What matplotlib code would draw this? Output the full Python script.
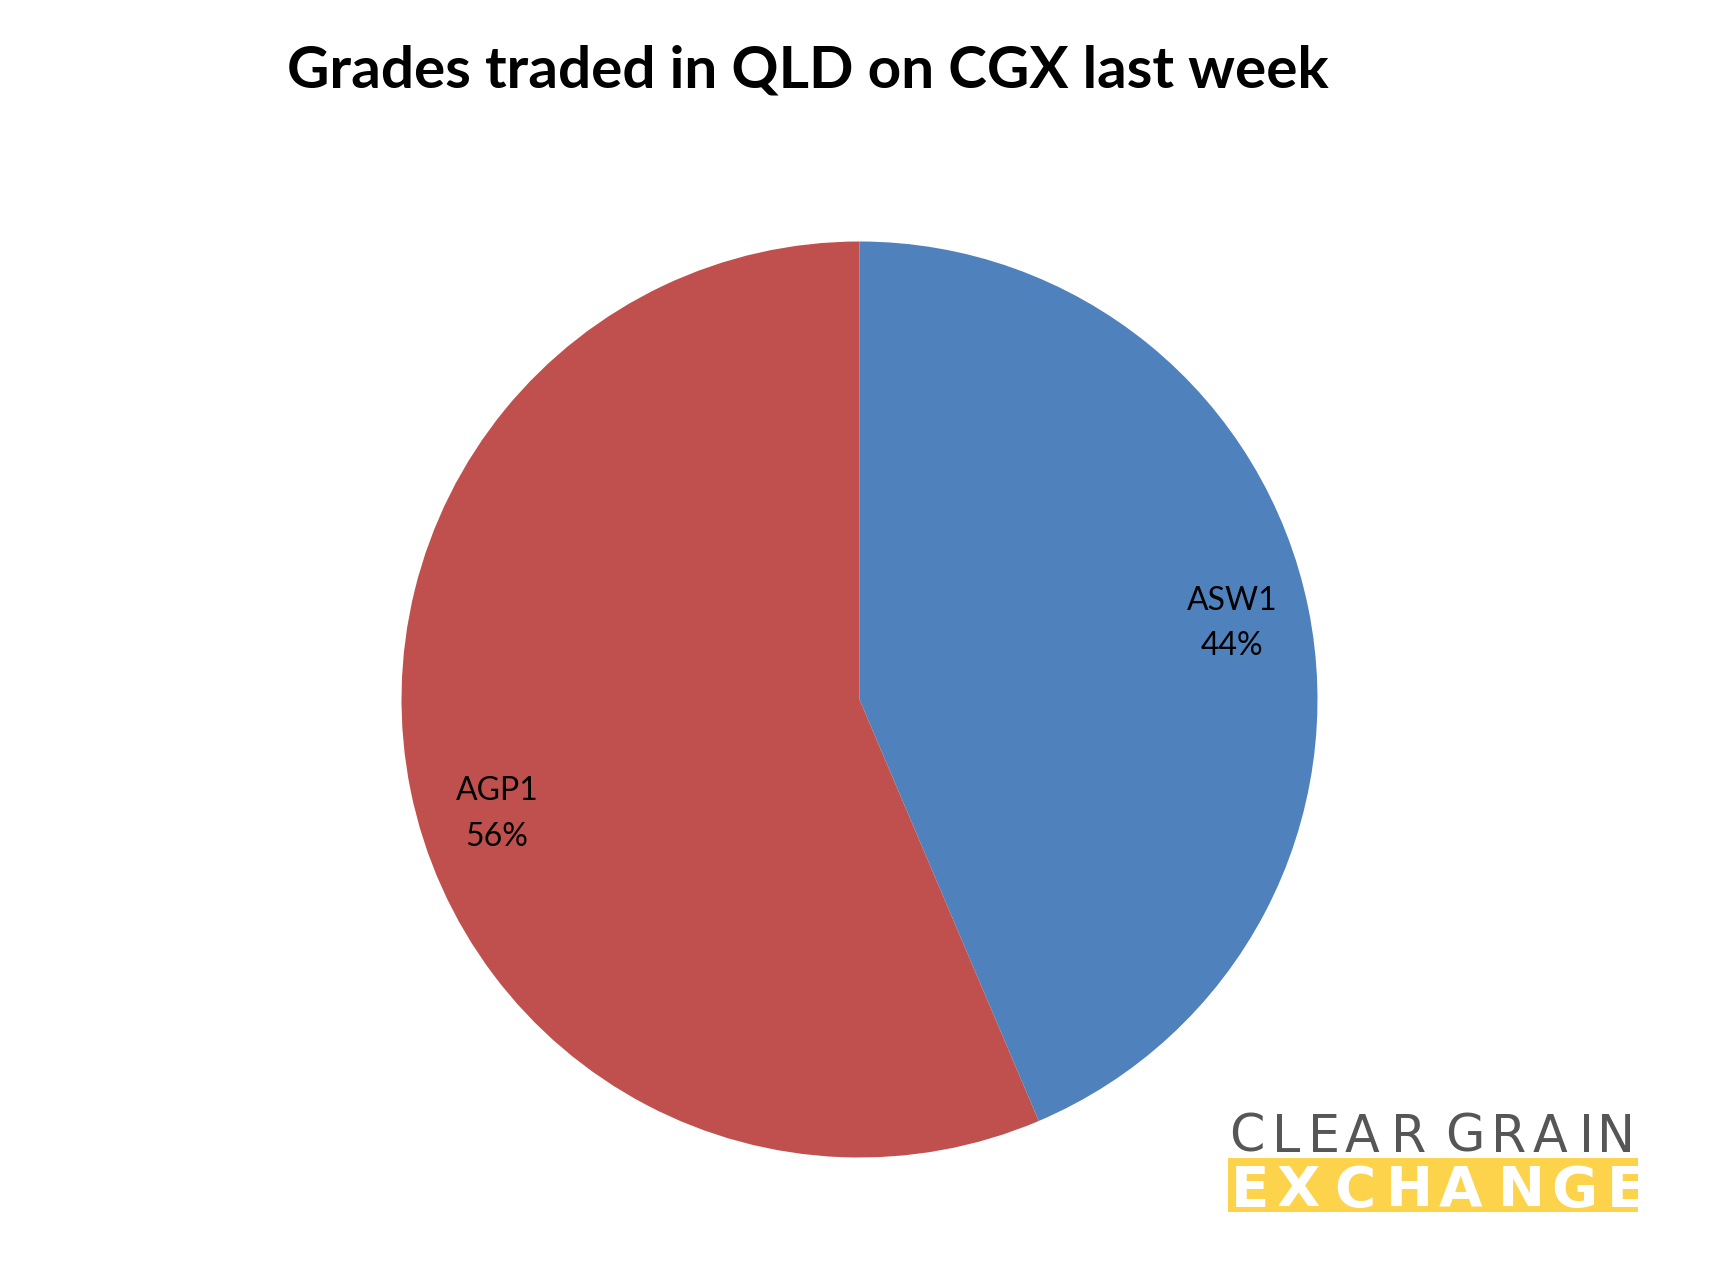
import numpy as np
import matplotlib
matplotlib.use("Agg")
import matplotlib.pyplot as plt
from matplotlib.patches import Rectangle
from matplotlib.textpath import TextPath
from matplotlib.font_manager import FontProperties

# data
grades = ["ASW1", "AGP1"]
shares = [43.6, 56.4]
colours = ["#4F81BD", "#C0504D"]
title = "Grades traded in QLD on CGX last week"

W, H = 1719, 1282
fig = plt.figure(figsize=(W / 100, H / 100), dpi=100)
fig.patch.set_facecolor("white")

# pie axes: centre (859, 700) px, radius 458 px
cx, cy, r = 859.5, 699.5, 458
ax = fig.add_axes([(cx - r) / W, (H - cy - r) / H, 2 * r / W, 2 * r / H])
total = sum(shares)
labels = ["{}\n{:.0f}%".format(g, 100 * s / total) for g, s in zip(grades, shares)]
wedges, texts = ax.pie(shares, colors=colours, startangle=90, counterclock=False,
                       labels=labels, labeldistance=0.83,
                       wedgeprops=dict(linewidth=0),
                       textprops=dict(fontsize=23, family="Lato", ha="center", va="center",
                                      linespacing=1.65))
# excel's "best fit" puts the AGP1 label a little lower than the wedge middle
ang = np.deg2rad(-162.5)
texts[1].set_position((0.83 * np.cos(ang), 0.83 * np.sin(ang)))
ax.set_xlim(-1, 1)
ax.set_ylim(-1, 1)
ax.set_aspect("equal")
ax.axis("off")

fig.text(808 / W, 1 - 71 / H, title, ha="center", va="center", fontsize=42,
         fontweight="bold", family="Lato")


# logo: letters spread out to fill a given width, sized by cap height (pixels)
def spread_text(s, x0, x1, baseline, cap, **kw):
    fp = FontProperties(family=kw.pop("family", "DejaVu Sans"),
                        weight=kw.pop("weight", "normal"))
    hcap = TextPath((0, 0), "H", size=100, prop=fp).get_extents().height / 100
    px = cap / hcap
    widths = []
    for ch in s:
        if ch == " ":
            widths.append(0.0)
        else:
            widths.append(TextPath((0, 0), ch, size=px, prop=fp).get_extents().width)
    n_gaps = len(s) - 1 + s.count(" ")
    gap = (x1 - x0 - sum(widths)) / n_gaps
    x = x0
    for ch, w in zip(s, widths):
        if ch != " ":
            fig.text(x / W, 1 - baseline / H, ch, ha="left", va="baseline",
                     fontsize=px * 72 / 100, fontproperties=fp, **kw)
            x += w + gap
        else:
            x += gap


spread_text("CLEAR GRAIN", 1229, 1638, 1152, 37, color="#565656")
fig.patches.append(Rectangle((1228 / W, (H - 1212) / H), 410 / W, 54 / H,
                             transform=fig.transFigure, facecolor="#FCD34A",
                             edgecolor="none"))
spread_text("EXCHANGE", 1231, 1636, 1206, 41, color="white", weight="bold")

fig.savefig("out.png", dpi=100, facecolor="white")
